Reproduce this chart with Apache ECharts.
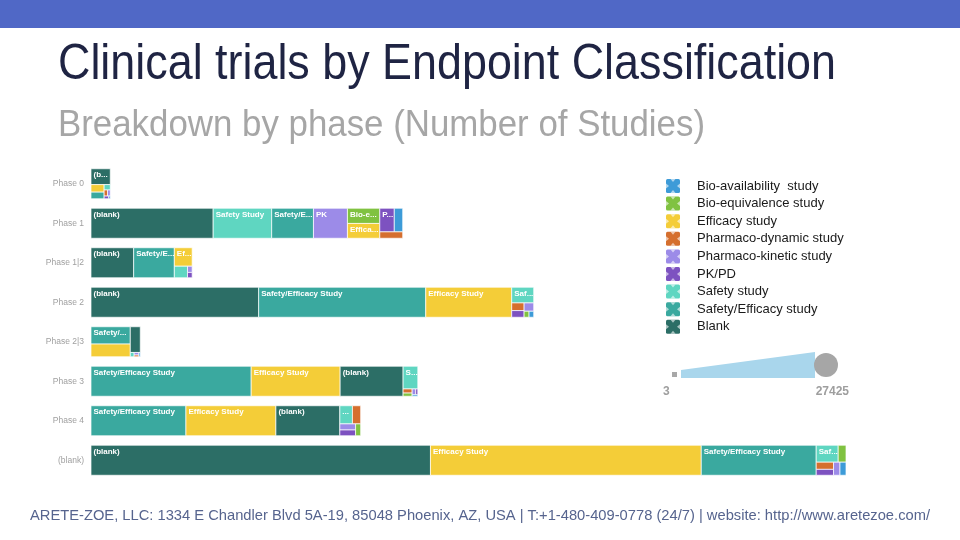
<!DOCTYPE html>
<html>
<head>
<meta charset="utf-8">
<script src="https://cdn.jsdelivr.net/npm/echarts@6/dist/echarts.min.js"></script>
<style>
html,body{margin:0;padding:0;background:#fff;}
#chart{width:960px;height:540px;}
</style>
</head>
<body>
<div id="chart"></div>
<script>
// ---------------- DATA ----------------
const phases = ['Phase 0', 'Phase 1', 'Phase 1|2', 'Phase 2', 'Phase 2|3', 'Phase 3', 'Phase 4', '(blank)'];

// number of studies per endpoint classification, in the order of `phases`
const bioAvailability = [5, 241, 0, 34, 7, 10, 0, 95];
const bioEquivalence  = [0, 595, 0, 36, 0, 35, 73, 160];
const efficacy        = [120, 580, 399, 3122, 604, 3231, 3267, 9837];
const pharmacoDynamic = [25, 177, 0, 115, 10, 45, 181, 150];
const pharmacoKinetic = [20, 1234, 35, 97, 15, 25, 116, 102];
const pkpd            = [15, 415, 30, 100, 0, 15, 110, 124];
const safety          = [40, 2125, 184, 418, 20, 404, 277, 451];
const safetyEfficacy  = [105, 1518, 1477, 6070, 823, 5819, 3449, 4175];
const blank           = [370, 4438, 1550, 6090, 311, 2287, 2323, 12331];

const legendNames = ['Bio-availability  study', 'Bio-equivalence study', 'Efficacy study', 'Pharmaco-dynamic study',
  'Pharmaco-kinetic study', 'PK/PD', 'Safety study', 'Safety/Efficacy study', 'Blank'];
const cellLabels = ['Bio-availability Study', 'Bio-equivalence Study', 'Efficacy Study', 'PD',
  'PK', 'PK/PD', 'Safety Study', 'Safety/Efficacy Study', '(blank)'];
const sizeLegendRange = [3, 27425];

const titleText = 'Clinical trials by Endpoint Classification';
const subtitleText = 'Breakdown by phase (Number of Studies)';
const footerText = 'ARETE-ZOE, LLC: 1334 E Chandler Blvd 5A-19, 85048 Phoenix, AZ, USA | T:+1-480-409-0778 (24/7) | website: http://www.aretezoe.com/';

// ---------------- STYLE ----------------
const colors = ['#3d9bd8', '#80c241', '#f4cd38', '#d56f2e', '#9c8be8', '#7d52c0', '#5fd6c1', '#3aa99f', '#2c6e66'];
const FONT = "'Liberation Sans', Arial, sans-serif";

const endpointValues = [bioAvailability, bioEquivalence, efficacy, pharmacoDynamic, pharmacoKinetic, pkpd, safety, safetyEfficacy, blank];

const rowItems = phases.map((p, i) =>
  endpointValues.map((vals, k) => ({ label: cellLabels[k], value: vals[i], color: colors[k] }))
    .filter(d => d.value > 0)
    .sort((a, b) => b.value - a.value)
);
const rowTotals = rowItems.map(items => items.reduce((s, d) => s + d.value, 0));

// squarified treemap layout (golden ratio target, d3-style)
function squarify(nodes, x0, y0, x1, y1) {
  const ratio = (1 + Math.sqrt(5)) / 2;
  const out = [];
  let value = nodes.reduce((s, n) => s + n.value, 0);
  let i0 = 0, i1 = 0;
  const n = nodes.length;
  while (i0 < n) {
    const dx = x1 - x0, dy = y1 - y0;
    let sumValue = nodes[i1++].value;
    let minValue = sumValue, maxValue = sumValue;
    const alpha = Math.max(dy / dx, dx / dy) / (value * ratio);
    let beta = sumValue * sumValue * alpha;
    let minRatio = Math.max(maxValue / beta, beta / minValue);
    for (; i1 < n; ++i1) {
      const nv = nodes[i1].value;
      sumValue += nv;
      if (nv < minValue) minValue = nv;
      if (nv > maxValue) maxValue = nv;
      beta = sumValue * sumValue * alpha;
      const newRatio = Math.max(maxValue / beta, beta / minValue);
      if (newRatio > minRatio) { sumValue -= nv; break; }
      minRatio = newRatio;
    }
    const row = nodes.slice(i0, i1);
    if (dx < dy) {
      const ny = value ? y0 + dy * sumValue / value : y1;
      let x = x0; const k = sumValue ? dx / sumValue : 0;
      row.forEach(nd => { const nx = x + nd.value * k; out.push({ node: nd, x0: x, y0: y0, x1: nx, y1: ny }); x = nx; });
      y0 = ny;
    } else {
      const nx = value ? x0 + dx * sumValue / value : x1;
      let y = y0; const k = sumValue ? dy / sumValue : 0;
      row.forEach(nd => { const ny = y + nd.value * k; out.push({ node: nd, x0: x0, y0: y, x1: nx, y1: ny }); y = ny; });
      x0 = nx;
    }
    value -= sumValue;
    i0 = i1;
  }
  return out;
}

function renderRow(params, api) {
  const total = api.value(0);
  const rowIdx = api.value(1);
  const start = api.coord([0, rowIdx]);
  const end = api.coord([total, rowIdx]);
  const bandH = api.size([0, 1])[1];
  const h = bandH * 0.76;
  const y0 = start[1] - h / 2;
  const cells = squarify(rowItems[params.dataIndex], start[0], y0, end[0], y0 + h);
  const children = [];
  cells.forEach(c => {
    const w = c.x1 - c.x0, hh = c.y1 - c.y0;
    children.push({
      type: 'rect',
      shape: { x: c.x0, y: c.y0, width: w, height: hh },
      style: { fill: c.node.color, stroke: '#ffffff', lineWidth: 0.7 }
    });
    if (hh >= 14 && w >= 11) {
      children.push({
        type: 'text',
        style: {
          text: c.node.label, x: c.x0 + 2.5, y: c.y0 + 2.5,
          fill: '#ffffff', font: 'bold 8px ' + FONT,
          width: Math.max(w - 1, 1), overflow: 'truncate', ellipsis: '...',
          verticalAlign: 'top', align: 'left'
        }
      });
    }
  });
  return { type: 'group', children };
}

// ---------------- TEXT FIT HELPERS ----------------
const measureCtx = document.createElement('canvas').getContext('2d');
function fitScale(text, font, target) {
  measureCtx.font = font;
  return target / measureCtx.measureText(text).width;
}
const titleFont = '50px ' + FONT;
const subFont = '37px ' + FONT;
const footFont = '15px ' + FONT;

// ---------------- LEGEND GRAPHICS ----------------
const legendGraphics = [];
legendNames.forEach((name, i) => {
  const cy = 186 + i * 17.6;
  const x = 666, y = cy - 7, s = 14;
  legendGraphics.push({
    type: 'rect', shape: { x, y, width: s, height: s, r: 1.5 }, style: { fill: colors[i] }, silent: true
  });
  const m = s / 2;
  const tri = [
    [[x + m - 2.5, y], [x + m + 2.5, y], [x + m, y + 3]],
    [[x + m - 2.5, y + s], [x + m + 2.5, y + s], [x + m, y + s - 3]],
    [[x, y + m - 2.5], [x, y + m + 2.5], [x + 3, y + m]],
    [[x + s, y + m - 2.5], [x + s, y + m + 2.5], [x + s - 3, y + m]]
  ];
  tri.forEach(pts => legendGraphics.push({
    type: 'polygon', shape: { points: pts }, style: { fill: 'rgba(255,255,255,0.6)' }, silent: true
  }));
  legendGraphics.push({
    type: 'text', x: 697, y: cy,
    style: { text: name, font: '13px ' + FONT, fill: '#1a1a1a', verticalAlign: 'middle', align: 'left' }, silent: true
  });
});

// size legend
legendGraphics.push(
  { type: 'rect', shape: { x: 672, y: 372, width: 5, height: 5 }, style: { fill: '#a8a8a8' }, silent: true },
  { type: 'polygon', shape: { points: [[681, 370], [815, 352], [815, 378], [681, 378]] }, style: { fill: '#a9d6ec' }, silent: true },
  { type: 'circle', shape: { cx: 826, cy: 365, r: 12 }, style: { fill: '#a6a6a6' }, silent: true },
  { type: 'text', x: 663, y: 392, style: { text: String(sizeLegendRange[0]), font: 'bold 12px ' + FONT, fill: '#9e9e9e', verticalAlign: 'middle', align: 'left' }, silent: true },
  { type: 'text', x: 849, y: 392, style: { text: String(sizeLegendRange[1]), font: 'bold 12px ' + FONT, fill: '#9e9e9e', verticalAlign: 'middle', align: 'right' }, silent: true }
);

const headerGraphics = [
  { type: 'rect', shape: { x: 0, y: 0, width: 960, height: 28 }, style: { fill: '#5068c6' }, silent: true },
  { type: 'text', x: 58, y: 65, scaleX: fitScale(titleText, titleFont, 778),
    style: { text: titleText, font: titleFont, fill: '#1f2443', verticalAlign: 'middle', align: 'left' }, silent: true },
  { type: 'text', x: 58, y: 126, scaleX: fitScale(subtitleText, subFont, 647),
    style: { text: subtitleText, font: subFont, fill: '#a6a6a6', verticalAlign: 'middle', align: 'left' }, silent: true },
  { type: 'text', x: 30, y: 516, scaleX: fitScale(footerText, footFont, 900),
    style: { text: footerText, font: footFont, fill: '#56648e', verticalAlign: 'middle', align: 'left' }, silent: true }
];

// ---------------- CHART ----------------
const chart = echarts.init(document.getElementById('chart'), null, { renderer: 'canvas' });
chart.setOption({
  animation: false,
  backgroundColor: '#ffffff',
  grid: { left: 91, right: 114, top: 164, bottom: 60 },
  xAxis: { type: 'value', min: 0, max: Math.max(...rowTotals), show: false },
  yAxis: {
    type: 'category', data: phases, inverse: true,
    axisLine: { show: false }, axisTick: { show: false }, splitLine: { show: false },
    axisLabel: { color: '#a0a0a0', fontSize: 8.5, fontFamily: FONT, margin: 7 }
  },
  series: [{
    type: 'custom',
    renderItem: renderRow,
    encode: { x: 0, y: 1 },
    data: phases.map((p, i) => [rowTotals[i], i]),
    silent: true
  }],
  graphic: { elements: headerGraphics.concat(legendGraphics) }
});
</script>
</body>
</html>
